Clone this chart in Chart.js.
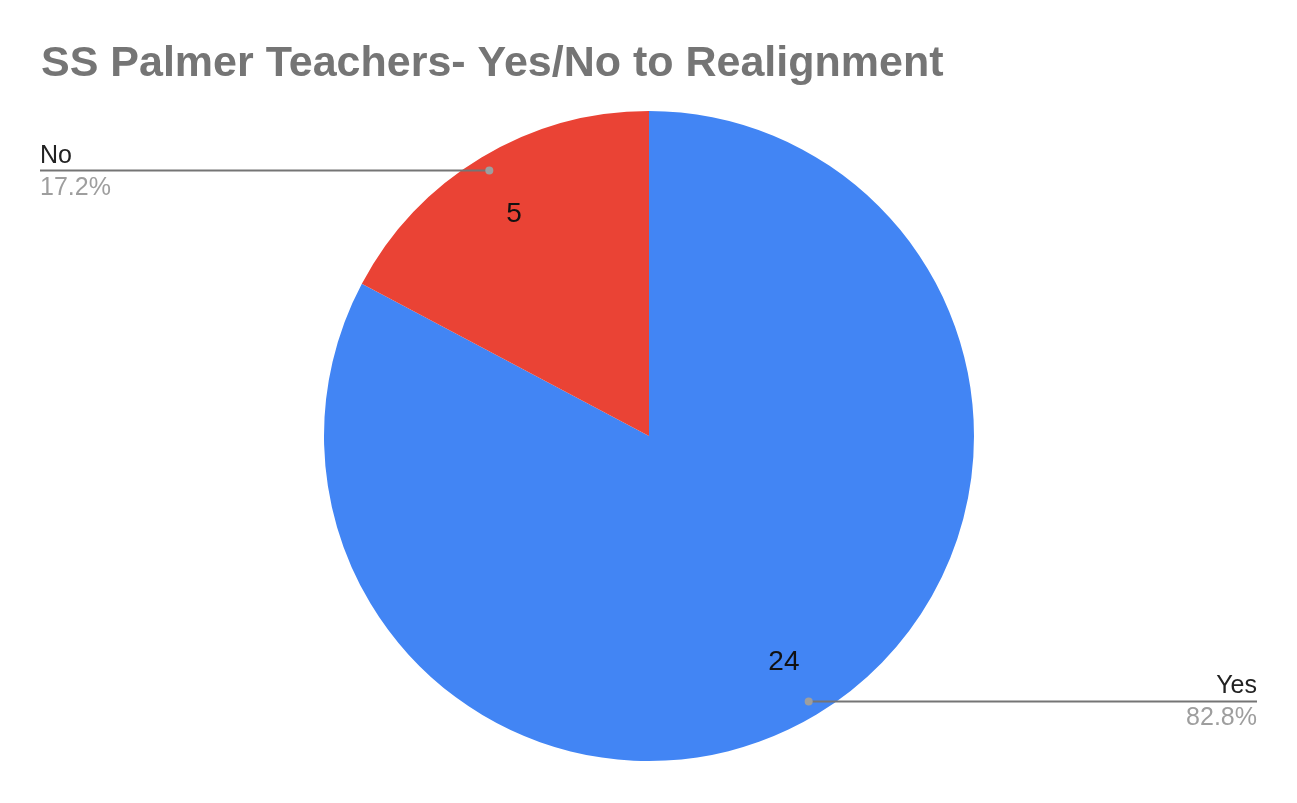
<!DOCTYPE html>
<html>
<head>
<meta charset="utf-8">
<script src="https://cdn.jsdelivr.net/npm/chart.js@4/dist/chart.umd.min.js"></script>
<style>
  html, body { margin: 0; padding: 0; background: #ffffff; }
  canvas { display: block; }
</style>
</head>
<body>
<canvas id="c" width="1297" height="803"></canvas>
<script>
const chartTitle = "SS Palmer Teachers- Yes/No to Realignment";
const categories = ["Yes", "No"];
const counts = [24, 5];
const sliceColors = ["#4285F4", "#EA4335"];

const FONT = "'Liberation Sans', Arial, sans-serif";

const labelPlugin = {
  id: "sheetLabels",
  afterDraw(chart) {
    const ctx = chart.ctx;
    const W = chart.width;
    ctx.save();
    ctx.textBaseline = "alphabetic";
    // title
    ctx.fillStyle = "#757575";
    ctx.font = "bold 43px " + FONT;
    ctx.textAlign = "left";
    ctx.fillText(chartTitle, 41, 76);

    const meta = chart.getDatasetMeta(0);
    const total = counts.reduce((a, b) => a + b, 0);
    meta.data.forEach((arc, i) => {
      const p = arc.getProps(["x", "y", "startAngle", "endAngle", "outerRadius"], true);
      const mid = (p.startAngle + p.endAngle) / 2;
      const R = p.outerRadius;
      const dx = p.x + Math.cos(mid) * R * 0.953;
      const dy = p.y + Math.sin(mid) * R * 0.953;
      const vx = p.x + Math.cos(mid) * R * 0.805;
      const vy = p.y + Math.sin(mid) * R * 0.805;
      const left = Math.cos(mid) < 0;
      const edge = left ? 40 : W - 40;

      // leader line
      ctx.strokeStyle = "#757575";
      ctx.lineWidth = 2;
      ctx.beginPath();
      ctx.moveTo(edge, dy);
      ctx.lineTo(dx, dy);
      ctx.stroke();
      ctx.fillStyle = "#9e9e9e";
      ctx.beginPath();
      ctx.arc(dx, dy, 4, 0, Math.PI * 2);
      ctx.fill();

      ctx.textAlign = left ? "left" : "right";
      ctx.font = "25px " + FONT;
      ctx.fillStyle = "#222222";
      ctx.fillText(categories[i], edge, dy - 8);
      ctx.fillStyle = "#9e9e9e";
      ctx.fillText((counts[i] / total * 100).toFixed(1) + "%", edge, dy + 24);

      // value label
      ctx.textAlign = "center";
      ctx.font = "28px " + FONT;
      ctx.fillStyle = "#111111";
      ctx.fillText(String(counts[i]), vx, vy + 10);
    });
    ctx.restore();
  }
};

new Chart(document.getElementById("c"), {
  type: "pie",
  data: {
    labels: categories,
    datasets: [{
      data: counts,
      backgroundColor: sliceColors,
      borderWidth: 0,
      hoverOffset: 0
    }]
  },
  options: {
    responsive: false,
    maintainAspectRatio: false,
    animation: false,
    layout: { padding: { top: 111, bottom: 42, left: 324, right: 323 } },
    plugins: {
      legend: { display: false },
      title: { display: false },
      tooltip: { enabled: false }
    }
  },
  plugins: [labelPlugin]
});
</script>
</body>
</html>
